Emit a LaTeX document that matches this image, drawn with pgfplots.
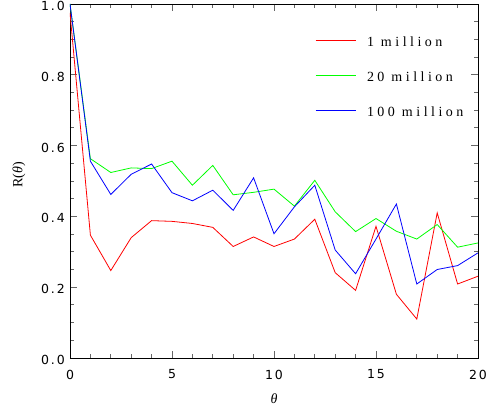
\documentclass[border=0pt]{standalone}
\usepackage{pgfplots}
\pgfplotsset{compat=1.18}
\usepackage{fontspec}
\setmainfont{Liberation Serif}
\newfontfamily\tickfont{DejaVu Sans}[LetterSpace=15]
\newfontfamily\legfont{Liberation Serif}[LetterSpace=25]
\definecolor{pr}{RGB}{255,0,0}
\definecolor{pg}{RGB}{0,255,0}
\definecolor{pb}{RGB}{0,0,255}
\begin{document}
\begin{tikzpicture}
\begin{axis}[
 name=ax,
 scale only axis, width=408pt, height=354pt,
 xmin=0, xmax=20, ymin=0, ymax=1,
 xtick={0,5,10,15,20}, minor x tick num=4,
 ytick={0,0.2,0.4,0.6,0.8,1.0}, minor y tick num=3,
 yticklabel style={/pgf/number format/fixed,/pgf/number format/fixed zerofill,/pgf/number format/precision=1},
 /pgf/number format/assume math mode=true,
 ticklabel style={font=\tickfont\fontsize{12.5}{14}\selectfont, inner sep=0pt},
 xticklabel style={anchor=center, yshift=-16.5pt},
 yticklabel style={anchor=east, xshift=-5pt, yshift=-2pt},
 tick align=inside, major tick length=7pt, minor tick length=4pt,
 every tick/.style={black!60, line width=0.8pt},
 axis line style={line width=0.9pt},
 xlabel={\itshape θ}, ylabel={R(\textit{θ})},
 label style={font=\fontsize{14}{16}\selectfont},
 xlabel style={at={(axis description cs:0.5,0)}, anchor=center, yshift=-41pt},
 ylabel style={at={(axis description cs:0,0.5)}, anchor=center, yshift=51pt, xshift=6pt},
 legend style={draw=none, fill=none, at={(rel axis cs:0.6005,0.907)}, anchor=north west, inner sep=0pt,
   row sep=26pt, column sep=11pt,
   nodes={inner sep=0pt, text height=9pt, text depth=0pt},
   font=\legfont\fontsize{14}{16}\selectfont},
 legend cell align=left,
 legend image code/.code={\draw[#1] (0pt,1pt) -- (40pt,1pt);},
 every axis plot/.append style={line width=0.8pt},
]
\addplot[pr] coordinates {(0,0.975)(1,0.347)(2,0.247)(3,0.340)(4,0.388)(5,0.386)(6,0.380)(7,0.369)(8,0.315)(9,0.342)(10,0.315)(11,0.336)(12,0.392)(13,0.241)(14,0.191)(15,0.372)(16,0.180)(17,0.110)(18,0.410)(19,0.209)(20,0.231)};
\addlegendentry{1 million}
\addplot[pg] coordinates {(0,1.0)(1,0.563)(2,0.524)(3,0.537)(4,0.535)(5,0.556)(6,0.488)(7,0.544)(8,0.461)(9,0.468)(10,0.477)(11,0.429)(12,0.502)(13,0.413)(14,0.357)(15,0.394)(16,0.358)(17,0.336)(18,0.377)(19,0.313)(20,0.325)};
\addlegendentry{20 million}
\addplot[pb] coordinates {(0,1.0)(1,0.556)(2,0.462)(3,0.519)(4,0.548)(5,0.467)(6,0.444)(7,0.474)(8,0.417)(9,0.509)(10,0.351)(11,0.427)(12,0.488)(13,0.305)(14,0.238)(15,0.336)(16,0.435)(17,0.209)(18,0.250)(19,0.261)(20,0.297)};
\addlegendentry{100 million}
\end{axis}
\pgfresetboundingbox
\path ([xshift=-70pt,yshift=-51pt]ax.south west) rectangle ([xshift=10pt,yshift=4pt]ax.north east);
\end{tikzpicture}
\end{document}
